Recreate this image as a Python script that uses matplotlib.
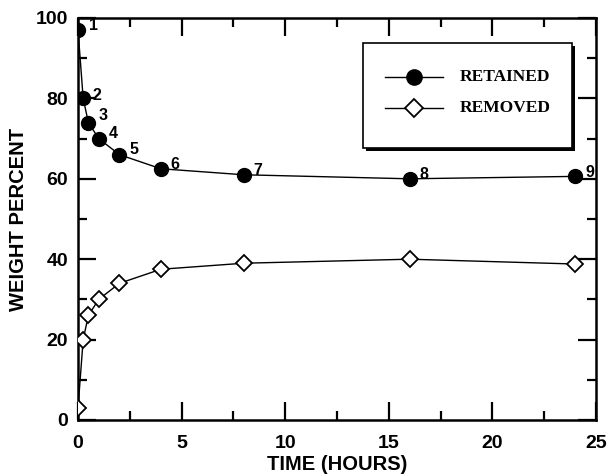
import matplotlib
matplotlib.use("Agg")
import matplotlib.pyplot as plt
from matplotlib.ticker import MultipleLocator
from matplotlib.patches import Rectangle
from matplotlib.lines import Line2D

time_h = [0, 0.25, 0.5, 1, 2, 4, 8, 16, 24]
retained = [97, 80, 74, 70, 66, 62.5, 61, 60, 60.6]
removed = [3, 20, 26, 30, 34, 37.5, 39, 40, 38.8]
point_labels = ["1", "2", "3", "4", "5", "6", "7", "8", "9"]
series_names = ["RETAINED", "REMOVED"]

W, H = 608, 475
plt.rcParams['font.family'] = ['Liberation Sans', 'DejaVu Sans']
fig = plt.figure(figsize=(W / 100, H / 100), dpi=100)
ax = fig.add_axes([78 / W, 1 - 420 / H, (596 - 78) / W, (420 - 18) / H])

ax.plot(time_h, retained, '-', color='black', lw=1.0, marker='o', ms=10,
        mfc='black', mec='black', zorder=3)
ax.plot(time_h, removed, '-', color='black', lw=1.0, marker='D', ms=8,
        mfc='white', mec='black', mew=1.3, zorder=3)

offsets = [(8, 3), (7, 2), (7, 5), (7, 4), (7, 4), (7, 3), (7, 3), (7, 3), (7, 3)]
for t, v, lab, off in zip(time_h, retained, point_labels, offsets):
    ax.annotate(lab, (t, v), xytext=off, textcoords='offset points',
                fontsize=11.5, fontweight='bold', ha='left', va='center',
                annotation_clip=False, zorder=4)

ax.set_xlim(0, 25)
ax.set_ylim(0, 100)
ax.xaxis.set_major_locator(MultipleLocator(5))
ax.xaxis.set_minor_locator(MultipleLocator(2.5))
ax.yaxis.set_major_locator(MultipleLocator(20))
ax.yaxis.set_minor_locator(MultipleLocator(10))
ax.tick_params(which='both', direction='in', top=True, right=True, width=1.6)
ax.tick_params(which='major', length=13, labelsize=14)
ax.tick_params(which='minor', length=6.5)
ax.tick_params(axis='x', which='major', pad=11)
ax.tick_params(axis='y', which='major', pad=7)
for lab in ax.get_xticklabels() + ax.get_yticklabels():
    lab.set_fontweight('bold')
for s in ax.spines.values():
    s.set_linewidth(1.8)

ax.set_xlabel('TIME (HOURS)', fontsize=14.5, fontweight='bold', labelpad=2)
ax.set_ylabel('WEIGHT PERCENT', fontsize=14.5, fontweight='bold', labelpad=6)

# legend box drawn in figure pixel coordinates
def fx(px):
    return px / W

def fy(py):
    return 1 - py / H

x0, x1, y0, y1 = 363, 572, 43, 148
fig.add_artist(Rectangle((fx(x0 + 3), fy(y1 + 3)), fx(x1 - x0), (y1 - y0) / H,
                         facecolor='black', edgecolor='black', lw=0, zorder=5))
fig.add_artist(Rectangle((fx(x0), fy(y1)), fx(x1 - x0), (y1 - y0) / H,
                         facecolor='white', edgecolor='black', lw=1.2, zorder=6))
rows = [77, 108]
styles = [dict(marker='o', ms=11, mfc='black', mec='black'),
          dict(marker='D', ms=9, mfc='white', mec='black', mew=1.3)]
for name, ry, st in zip(series_names, rows, styles):
    fig.add_artist(Line2D([fx(385), fx(414), fx(443)], [fy(ry)] * 3, color='black',
                          lw=1.0, markevery=[1], zorder=7, **st))
    fig.text(fx(460), fy(ry), name, ha='left', va='center', fontsize=12.5,
             fontweight='bold', family='Liberation Serif', zorder=7)

fig.savefig('out.png', dpi=100)
